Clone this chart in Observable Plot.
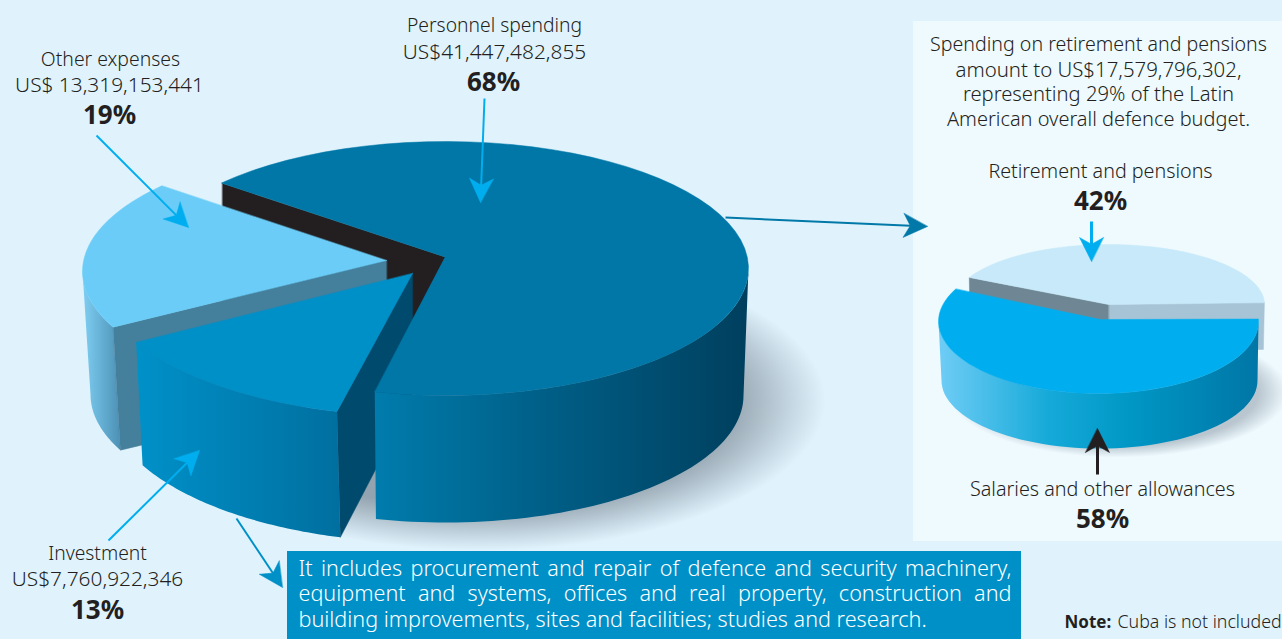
<!DOCTYPE html>
<html>
<head>
<meta charset="utf-8">
<script src="https://cdn.jsdelivr.net/npm/d3@7"></script>
<script src="https://cdn.jsdelivr.net/npm/@observablehq/plot@0.6"></script>
<style>
  html, body { margin: 0; padding: 0; background: #e0f3fd; overflow: hidden; }
  svg { display: block; }
</style>
</head>
<body>
<div id="chart"></div>
<script>
// Defence budget shares, in percent as printed on the labels
const budgetCategories = ["Personnel spending", "Investment", "Other expenses"];
const budgetShares = [68, 13, 19];
const budgetAmounts = ["US$41,447,482,855", "US$7,760,922,346", "US$ 13,319,153,441"];

const personnelCategories = ["Salaries and other allowances", "Retirement and pensions"];
const personnelShares = [58, 42];

const noteLines = [
  "Spending on retirement and pensions",
  "amount to US$17,579,796,302,",
  "representing 29% of the Latin",
  "American overall defence budget."
];
const boxLines = [
  "It includes procurement and repair of defence and security machinery,",
  "equipment and systems, offices and real property, construction and",
  "building improvements, sites and facilities; studies and research."
];

const W = 1282, H = 639;
const FONT = "'Noto Sans', sans-serif";
const rad = d => d * Math.PI / 180;

// A point on an ellipse; t is measured clockwise from the top of the pie, in degrees
const onEllipse = (e, t) => ({x: e.cx + e.rx * Math.sin(rad(t)), y: e.cy - e.ry * Math.cos(rad(t))});
const arc = (e, a, b) => d3.range(0, 61).map(i => onEllipse(e, a + (b - a) * i / 60));

// Turns a list of shares into start/end angles, going clockwise from `start`
function sweep(shares, start) {
  let a = start;
  return shares.map(v => { const r = [a, a + v * 3.6]; a = r[1]; return r; });
}
const [personnelArc, investmentArc, otherArc] = sweep(budgetShares, -49.5);
const [salaryArc, pensionArc] = sweep(personnelShares, 88);

// Solid marks: filled polygon through the given points
const poly = (pts, fill) => Plot.line(pts, {x: "x", y: "y", fill, stroke: fill.startsWith("url") ? "none" : fill, strokeWidth: 0.5, curve: "linear-closed"});

// Only the part of a side wall facing the viewer is drawn
const clampFront = ([a, b]) => [Math.max(a, 90), Math.min(b, 270)];
const wall = (top, bottom, [a, b], fill) => {
  const [p, q] = clampFront([a, b]);
  return poly([...arc(top, p, q), ...arc(bottom, q, p)], fill);
};
const wedge = (apex, e, a, b, fill) => poly([apex, ...arc(e, a, b)], fill);
const cut = (apexTop, apexBottom, top, bottom, t, fill) =>
  poly([apexTop, onEllipse(top, t), onEllipse(bottom, t), apexBottom], fill);

// Arrow: straight shaft plus a barbed, notched head
function arrow({x1, y1, x2, y2, color, width = 2, len = 24, half = 12}) {
  const d = Math.hypot(x2 - x1, y2 - y1), ux = (x2 - x1) / d, uy = (y2 - y1) / d;
  const at = (a, s) => ({x: x2 - ux * a - uy * s, y: y2 - uy * a + ux * s});
  return [
    Plot.link([{x1, y1, x2: x2 - ux * len * 0.7, y2: y2 - uy * len * 0.7}], {x1: "x1", y1: "y1", x2: "x2", y2: "y2", stroke: color, strokeWidth: width}),
    poly([at(0, 0), at(len, half), at(len * 0.72, 0), at(len, -half)], color)
  ];
}

// Gradients used by the side walls and the soft floor shadows
const grad = (id, stops) => `<linearGradient id="${id}" x1="0" x2="1" y1="0" y2="0">${stops.map(([o, c]) => `<stop offset="${o}" stop-color="${c}"/>`).join("")}</linearGradient>`;
const radial = (id, color, inner) => `<radialGradient id="${id}"><stop offset="0" stop-color="${color}"/><stop offset="${inner}" stop-color="${color}"/><stop offset="1" stop-color="${color}" stop-opacity="0"/></radialGradient>`;
const defs = () => {
  const g = document.createElementNS("http://www.w3.org/2000/svg", "defs");
  g.innerHTML = [
    grad("wallPersonnel", [[0, "#007cad"], [0.45, "#005f87"], [1, "#003f5e"]]),
    grad("wallInvestment", [[0, "#0091c9"], [1, "#006f9f"]]),
    grad("wallOther", [[0, "#7fcff3"], [1, "#4c90b5"]]),
    grad("wallSalaries", [[0, "#6fcdf6"], [0.35, "#14a9d8"], [0.6, "#0097c5"], [1, "#0076a6"]]),
    radial("shadowMain", "#93a3af", 0.72),
    radial("shadowSmall", "#b9c6cf", 0.82)
  ].join("");
  return g;
};

// Pie layout
const mainTop = {cx: 445, cy: 268, rx: 303, ry: 127};
const mainBottom = {cx: 445, cy: 395, rx: 298, ry: 127};
const mainApex = {x: 444.5, y: 256.5};
const mainApexLow = {x: 444.5, y: 384};
const GAP = 1.8; // the large slice is drawn with a small gap at both cut faces

const invTop = {cx: 422, cy: 277, rx: 324, ry: 139};
const invBottom = {cx: 424, cy: 397, rx: 319, ry: 145};
const invApex = {x: 412, y: 273};
const invApexLow = {x: 412, y: 398};

const SPIN = 1.9; // the pulled-out slice at the back sits a little further round
const othTop = {cx: 385, cy: 271, rx: 303, ry: 127};
const othBottom = {cx: 385, cy: 394, rx: 295, ry: 127};
const othApex = {x: 386, y: 260};
const othApexLow = {x: 386, y: 386};

const salTop = {cx: 1098, cy: 321, rx: 160, ry: 72};
const salBottom = {cx: 1099, cy: 380, rx: 158, ry: 68};
const salApex = {x: 1100, y: 319};
const penTop = {cx: 1108, cy: 304, rx: 156, ry: 60};
const penBottom = {cx: 1108, cy: 351, rx: 155, ry: 60};
const penApex = {x: 1108, y: 304};
const penApexLow = {x: 1108, y: 352};

const ellipse = (cx, cy, rx, ry) => arc({cx, cy, rx, ry}, 0, 360);

// Text: blocks of {x, y, t} with a weight and size
const label = (rows, {size = 19.3, weight = 300, fill = "#231f20", anchor = "middle"} = {}) =>
  Plot.text(rows, {x: "x", y: "y", text: "t", fontSize: size, fontWeight: weight, fill, textAnchor: anchor, lineAnchor: "bottom", fontFamily: FONT});

// Justified copy for the blue box: every word is placed on its own
const ctx = document.createElement("canvas").getContext("2d");
const BOX_SIZE = 21.6, BOX_LEFT = 298, BOX_RIGHT = 1011, BOX_BASE = [575, 600, 626];
ctx.font = `300 ${BOX_SIZE}px 'Noto Sans'`;
const boxWords = boxLines.flatMap((line, i) => {
  const words = line.split(" ");
  const total = d3.sum(words, w => ctx.measureText(w).width);
  const space = i < boxLines.length - 1
    ? (BOX_RIGHT - BOX_LEFT - total) / (words.length - 1)
    : ctx.measureText(" ").width;
  let x = BOX_LEFT;
  return words.map(t => { const r = {x, y: BOX_BASE[i], t}; x += ctx.measureText(t).width + space; return r; });
});

const AMOUNT_SIZE = 20.85, PCT_SIZE = 26;
const noteSizes = [19.6, 20.4, 20.2, 19.95];
const noteBase = [50, 76, 100, 125];

const plot = Plot.plot({
  width: W, height: H,
  margin: 0,
  x: {domain: [0, W], range: [0, W], axis: null},
  y: {domain: [0, H], range: [0, H], axis: null},
  style: {background: "transparent", fontFamily: FONT},
  marks: [
    defs,
    // lighter panel behind the breakdown pie
    Plot.rect([{x1: 913, x2: W, y1: 21, y2: 541}], {x1: "x1", x2: "x2", y1: "y1", y2: "y2", fill: "#eefafe"}),

    // floor shadows
    poly(ellipse(480, 400, 345, 150), "url(#shadowMain)"),
    poly(ellipse(1118, 392, 170, 65), "url(#shadowSmall)"),

    // large pie, back to front
    poly([{x: 222, y: 183}, mainApex, mainApexLow, {x: 222, y: 310}], "#231f20"),
    wall(othTop, othBottom, [otherArc[0] + SPIN, otherArc[1] + SPIN], "url(#wallOther)"),
    cut(othApex, othApexLow, othTop, othBottom, otherArc[0] + SPIN, "#447f9b"),
    wedge(othApex, othTop, otherArc[0] + SPIN, otherArc[1] + SPIN, "#6bcdf7"),
    cut(invApex, invApexLow, invTop, invBottom, investmentArc[0], "#004a6e"),
    wall(invTop, invBottom, investmentArc, "url(#wallInvestment)"),
    wedge(invApex, invTop, investmentArc[0], investmentArc[1], "#0090c8"),
    wall(mainTop, mainBottom, [personnelArc[0] + GAP, personnelArc[1] - GAP], "url(#wallPersonnel)"),
    wedge(mainApex, mainTop, personnelArc[0] + GAP, personnelArc[1] - GAP, "#0077a6"),

    // breakdown pie, back to front
    cut(penApex, penApexLow, penTop, penBottom, pensionArc[1], "#a6c4d6"),
    cut(penApex, penApexLow, penTop, penBottom, pensionArc[0], "#6f8795"),
    wedge(penApex, penTop, pensionArc[0], pensionArc[1], "#c7e9f9"),
    wall(salTop, salBottom, salaryArc, "url(#wallSalaries)"),
    wedge(salApex, salTop, salaryArc[0], salaryArc[1], "#00aeef"),

    // blue note box
    Plot.rect([{x1: 287, x2: 1021, y1: 551, y2: H}], {x1: "x1", x2: "x2", y1: "y1", y2: "y2", fill: "#0090c8"}),
    label(boxWords, {size: BOX_SIZE, fill: "#ffffff", anchor: "start"}),

    // call-out arrows
    ...arrow({x1: 484, y1: 98, x2: 480, y2: 202, color: "#00aeef"}),
    ...arrow({x1: 96, y1: 135, x2: 188, y2: 227, color: "#00aeef"}),
    ...arrow({x1: 108, y1: 540, x2: 199, y2: 450, color: "#00aeef"}),
    ...arrow({x1: 236, y1: 518, x2: 282, y2: 587, color: "#0090c8"}),
    ...arrow({x1: 725, y1: 217, x2: 927, y2: 226, color: "#0078a8"}),
    ...arrow({x1: 1091, y1: 221, x2: 1091, y2: 261, color: "#00aeef", width: 3}),
    ...arrow({x1: 1097, y1: 474, x2: 1097, y2: 428, color: "#231f20", width: 3}),

    // labels
    label([{x: 494, y: 31, t: budgetCategories[0]}]),
    label([{x: 494, y: 58, t: budgetAmounts[0]}], {size: AMOUNT_SIZE}),
    label([{x: 493, y: 90, t: budgetShares[0] + "%"}], {size: PCT_SIZE, weight: 700}),
    label([{x: 110, y: 65, t: budgetCategories[2]}], {size: 19.4}),
    label([{x: 109, y: 91, t: budgetAmounts[2]}], {size: AMOUNT_SIZE}),
    label([{x: 109, y: 123, t: budgetShares[2] + "%"}], {size: PCT_SIZE, weight: 700}),
    label([{x: 97, y: 559, t: budgetCategories[1]}]),
    label([{x: 97, y: 585, t: budgetAmounts[1]}], {size: AMOUNT_SIZE}),
    label([{x: 97, y: 618, t: budgetShares[1] + "%"}], {size: PCT_SIZE, weight: 700}),
    ...noteLines.map((t, i) => label([{x: 1098, y: noteBase[i], t}], {size: noteSizes[i]})),
    label([{x: 1100, y: 177, t: personnelCategories[1]}], {size: 19.7}),
    label([{x: 1100, y: 209, t: personnelShares[1] + "%"}], {size: PCT_SIZE, weight: 700}),
    label([{x: 1102, y: 495, t: personnelCategories[0]}], {size: 19.75}),
    label([{x: 1102, y: 527, t: personnelShares[0] + "%"}], {size: PCT_SIZE, weight: 700}),
    label([{x: 1064, y: 627, t: "Note:"}], {size: 17, weight: 700, anchor: "start"}),
    label([{x: 1117, y: 627, t: "Cuba is not included"}], {size: 17.75, anchor: "start"})
  ]
});
document.getElementById("chart").append(plot);
</script>
</body>
</html>
